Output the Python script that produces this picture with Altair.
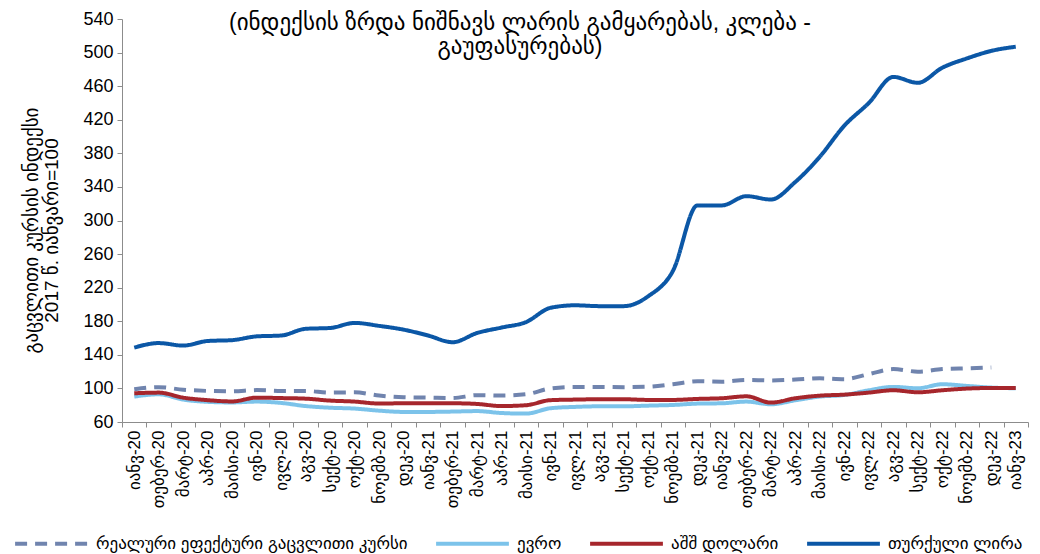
import altair as alt
import pandas as pd

m_names = ["იანვ", "თებერ", "მარტ", "აპრ", "მაისი", "ივნ", "ივლ", "აგვ", "სექტ", "ოქტ", "ნოემბ", "დეკ"]
months = [f"{m}-{y}" for y in ["20", "21", "22"] for m in m_names] + ["იანვ-23"]

reer = [99, 101.5, 98.5, 97, 96.5, 98, 97, 97, 95, 95.3, 91.5, 89.5,
        89, 88.5, 92, 91.5, 93, 100, 101.8, 101.8, 101.5, 102, 105, 108.5,
        108, 110, 109.5, 110.5, 112, 111, 117, 123, 120, 123, 124, 125, None]
eur = [90.3, 93, 86.7, 84, 83.3, 84.3, 82.7, 79, 77, 76, 73.5, 72,
       72, 72.4, 73, 70.7, 70, 76.4, 78, 78.7, 78.7, 79.5, 80.3, 81.9,
       82.3, 84.3, 81.1, 85.9, 90.3, 92.2, 97.8, 101.8, 100.2, 105, 103, 101, 100.2]
usd = [94.2, 95, 89, 86, 84.5, 89, 88.5, 87.8, 85.5, 84.3, 82, 82.3,
       82.3, 82.3, 81.5, 79, 80, 86, 86.7, 87.1, 87.1, 86.3, 86.3, 87.5,
       88.3, 90.6, 83.1, 88.3, 91.4, 92.6, 95, 97.8, 95.4, 97.8, 99.8, 100.5, 100.5]
tryl = [148.6, 154, 151, 156.5, 157.5, 162, 163, 171, 172, 178, 174.5, 170,
        163, 155, 166, 172.5, 179, 196, 199, 198, 198, 210, 240, 318,
        318, 329, 325, 346, 376, 413, 440, 471, 464, 482, 493, 502, 507]

series_names = ["რეალური ეფექტური გაცვლითი კურსი", "ევრო", "აშშ დოლარი", "თურქული ლირა"]
colors = ["#7084AE", "#7CC3EA", "#A6262C", "#0B57A6"]
dashes = [[12, 8], [1, 0], [1, 0], [1, 0]]
y_ticks = list(range(60, 541, 40))

rows = []
for name, vals in zip(series_names, [reer, eur, usd, tryl]):
    for m, v in zip(months, vals):
        if v is not None:
            rows.append({"month": m, "series": name, "value": v})
df = pd.DataFrame(rows)

FONT = "Liberation Sans, DejaVu Sans"
legend_cfg = dict(
    title=None, orient="none", direction="horizontal", legendX=-109, legendY=486,
    symbolType="stroke", symbolSize=5300, symbolStrokeWidth=4,
    labelFont=FONT, labelFontSize=17, labelColor="#000000", labelLimit=0,
    columnPadding=20, labelOffset=6,
)

chart = alt.Chart(df).mark_line(strokeWidth=4, interpolate="monotone").encode(
    x=alt.X("month:N", sort=months, bandPosition=0.5,
            scale=alt.Scale(type="band", paddingInner=0, paddingOuter=0),
            axis=alt.Axis(title=None, labelAngle=-90, labelFont=FONT, labelFontSize=17,
                          labelColor="#000000", tickBand="extent", tickSize=5,
                          labelPadding=3, domainColor="#8C8C8C", tickColor="#8C8C8C",
                          grid=False)),
    y=alt.Y("value:Q", scale=alt.Scale(domain=[60, 540], nice=False, zero=False),
            axis=alt.Axis(values=y_ticks, grid=False, tickSize=5, labelFont=FONT,
                          labelFontSize=18, labelColor="#000000", labelPadding=4,
                          domainColor="#8C8C8C", tickColor="#8C8C8C",
                          title=["გაცვლითი კურსის ინდექსი", "2017 წ. იანვარი=100"],
                          titleFont=FONT, titleFontSize=19, titleFontWeight="normal",
                          titleLineHeight=20,
                          titleColor="#000000", titleX=-81, titleY=211)),
    color=alt.Color("series:N", scale=alt.Scale(domain=series_names, range=colors),
                    legend=alt.Legend(**legend_cfg)),
    strokeDash=alt.StrokeDash("series:N", scale=alt.Scale(domain=series_names, range=dashes),
                              legend=alt.Legend(**legend_cfg)),
).properties(
    width=906, height=403,
    autosize=alt.AutoSizeParams(type="none"),
    padding={"left": 114, "top": 11, "right": 4, "bottom": 132},
    title=alt.TitleParams(
        text=["(ინდექსის ზრდა ნიშნავს ლარის გამყარებას, კლება -", "გაუფასურებას)"],
        font=FONT, fontSize=23, fontWeight="normal", color="#000000",
        anchor="middle", offset=-49, dx=-55, lineHeight=24,
    ),
).configure_view(stroke=None)

chart.save("out.html", embed_options={"renderer": "svg", "actions": False})
